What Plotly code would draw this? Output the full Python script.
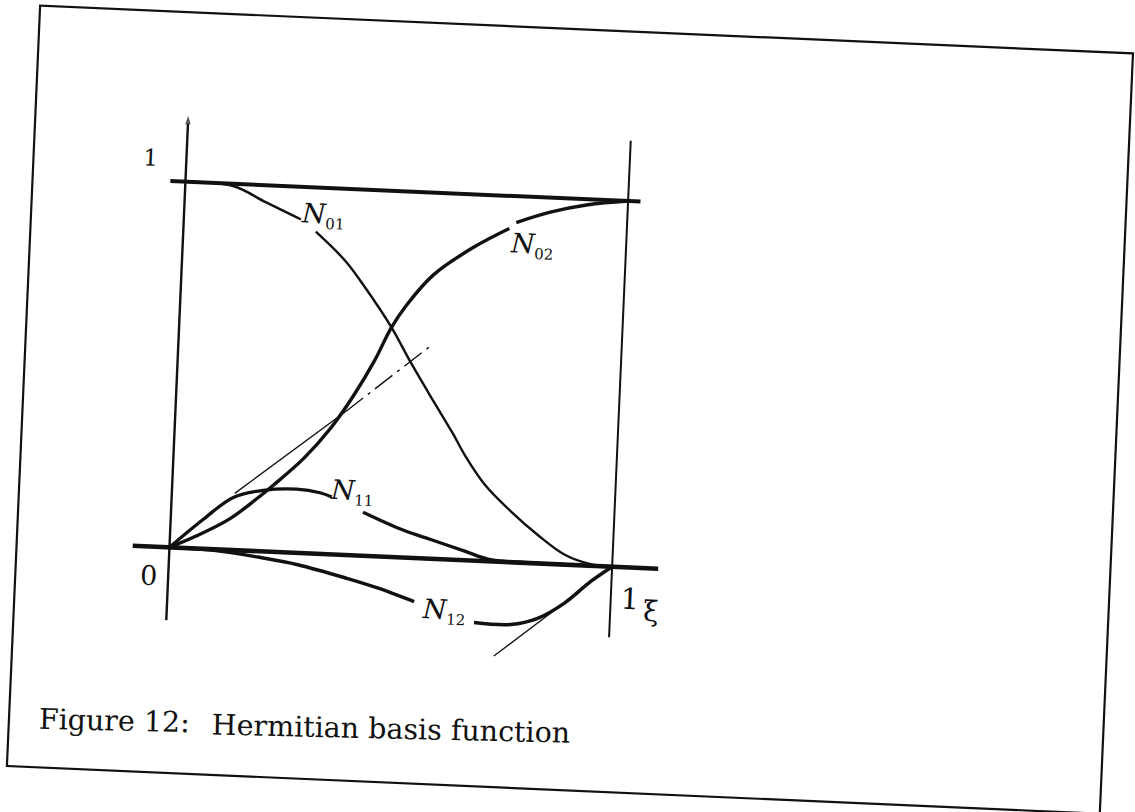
import plotly.graph_objects as go

# Hermite basis functions on the unit element, traced point by point
xi_n01 = [0.0, 0.108, 0.184, 0.264, None, 0.299, 0.369, 0.416, 0.479, 0.523, 0.579,
          0.627, 0.659, 0.706, 0.768, 0.830, 0.892, 0.953, 1.0]
n01 = [1.0, 0.994, 0.953, 0.911, None, 0.879, 0.802, 0.732, 0.627, 0.539, 0.434,
       0.346, 0.283, 0.207, 0.137, 0.077, 0.027, 0.004, 0.0]

xi_n02 = [0.0, 0.059, 0.133, 0.192, 0.228, 0.294, 0.352, 0.402, 0.444, 0.479, 0.511,
          0.569, 0.657, 0.735, None, 0.750, 0.828, 0.910, 1.0]
n02 = [0.0, 0.034, 0.085, 0.143, 0.182, 0.259, 0.345, 0.440, 0.534, 0.627, 0.690,
       0.776, 0.856, 0.911, None, 0.928, 0.961, 0.985, 1.0]

xi_n11 = [0.0, 0.073, 0.139, 0.206, 0.281, 0.334, 0.361, None, 0.433, 0.525, 0.590,
          0.666, 0.719, 0.800, 1.0]
n11 = [0.0, 0.080, 0.144, 0.167, 0.174, 0.167, 0.157, None, 0.119, 0.075, 0.052,
       0.025, 0.006, 0.001, 0.0]

xi_n12 = [0.0, 0.100, 0.200, 0.291, 0.405, 0.473, 0.557, None, 0.694, 0.777, 0.837,
          0.896, 0.954, 1.0]
n12 = [0.0, -0.003, -0.016, -0.032, -0.064, -0.086, -0.119, None, -0.169, -0.170,
       -0.150, -0.105, -0.042, 0.0]

# tangent of N11 at xi = 0 (solid part, then dash-dot continuation)
xi_tan0 = [0.142, 0.384]
n_tan0 = [0.155, 0.392]
xi_tan0_dd = [0.384, 0.568]
n_tan0_dd = [0.392, 0.580]
# tangent of N12 at xi = 1
xi_tan1 = [0.742, 0.870]
n_tan1 = [-0.258, -0.130]

# frame lines: ordinate axis, xi = 1 line, levels 1 and 0
xi_axis = [0.0, 0.0]
n_axis = [-0.199, 1.18]
xi_right = [1.0, 1.0]
n_right = [-0.193, 1.165]
xi_top = [-0.034, 1.028]
n_top = [1.0, 1.0]
xi_base = [-0.083, 1.104]
n_base = [0.0, 0.0]

# curve labels
label_text = ["<i>N</i><sub><span style='font-size:15px'>01</span></sub>",
              "<i>N</i><sub><span style='font-size:15px'>02</span></sub>",
              "<i>N</i><sub><span style='font-size:15px'>11</span></sub>",
              "<i>N</i><sub><span style='font-size:15px'>12</span></sub>"]
label_xi = [0.3135, 0.7886, 0.407, 0.626]
label_n = [0.924, 0.866, 0.173, -0.141]

# tick-like labels on the axes
tick_text = ["1", "0", "1", "ξ"]
tick_xi = [-0.081, -0.043, 1.042, 1.092]
tick_n = [1.063, -0.078, -0.086, -0.116]
tick_size = [23, 27, 29, 28]

caption_left = "Figure 12:"
caption_right = "Hermitian basis function"

INK = "#111111"
SERIF = "DejaVu Serif, Liberation Serif, serif"

fig = go.Figure()


def add_line(x, y, width, dash="solid", shape="linear"):
    fig.add_trace(go.Scatter(
        x=x, y=y, mode="lines", hoverinfo="skip", connectgaps=False,
        line=dict(color=INK, width=width, dash=dash, shape=shape, smoothing=1.0),
    ))


# frame
add_line(xi_top, n_top, 4.0)
add_line(xi_base, n_base, 4.6)
add_line(xi_right, n_right, 2.0)
fig.add_trace(go.Scatter(
    x=xi_axis, y=n_axis, mode="lines+markers", hoverinfo="skip",
    line=dict(color=INK, width=2.4),
    marker=dict(symbol="arrow", size=[0, 9], color=INK, angleref="previous",
                line=dict(width=0)),
))

# tangents
add_line(xi_tan0, n_tan0, 1.4)
add_line(xi_tan0_dd, n_tan0_dd, 1.4, dash="22px,6px,3px,6px")
add_line(xi_tan1, n_tan1, 1.4)

# basis curves
add_line(xi_n01, n01, 2.4, shape="spline")
add_line(xi_n02, n02, 3.4, shape="spline")
add_line(xi_n11, n11, 3.3, shape="spline")
add_line(xi_n12, n12, 3.5, shape="spline")

for t, x, y in zip(label_text, label_xi, label_n):
    fig.add_annotation(x=x, y=y, text=t, showarrow=False,
                       font=dict(family=SERIF, size=27, color=INK),
                       xanchor="center", yanchor="middle")

for t, x, y, s in zip(tick_text, tick_xi, tick_n, tick_size):
    fig.add_annotation(x=x, y=y, text=t, showarrow=False,
                       font=dict(family=SERIF, size=s, color=INK),
                       xanchor="center", yanchor="middle")

# caption
fig.add_annotation(xref="paper", yref="paper", x=0.045, y=0.0883,
                   text=caption_left, showarrow=False, textangle=-1.2,
                   font=dict(family=SERIF, size=28.5, color=INK),
                   xanchor="left", yanchor="middle")
fig.add_annotation(xref="paper", yref="paper", x=0.1974, y=0.0935,
                   text=caption_right, showarrow=False, textangle=-1.2,
                   font=dict(family=SERIF, size=28.5, color=INK),
                   xanchor="left", yanchor="middle")

# surrounding box of the figure
fig.add_shape(type="rect", xref="paper", yref="paper",
              x0=0.0204, x1=0.9842, y0=0.027, y1=0.9642,
              line=dict(color=INK, width=2.2), fillcolor="rgba(0,0,0,0)")

fig.update_layout(
    width=1135, height=812, autosize=False,
    margin=dict(l=0, r=0, t=0, b=0, pad=0),
    paper_bgcolor="white", plot_bgcolor="white",
    showlegend=False, hovermode=False,
    xaxis=dict(range=[-0.3972, 2.1643], visible=False, fixedrange=True),
    yaxis=dict(range=[-0.676, 1.5426], visible=False, fixedrange=True),
)

# the printed page sits slightly askew
tilt_js = (
    "document.documentElement.style.overflow='hidden';"
    "document.body.style.overflow='hidden';"
    "document.body.style.margin='0';"
    "var gd=document.getElementById('{plot_id}');"
    "gd.style.transformOrigin='50% 50%';"
    "gd.style.transform='rotate(2.5deg)';"
)

fig.write_html("out.html", post_script=tilt_js, config={"displayModeBar": False})
